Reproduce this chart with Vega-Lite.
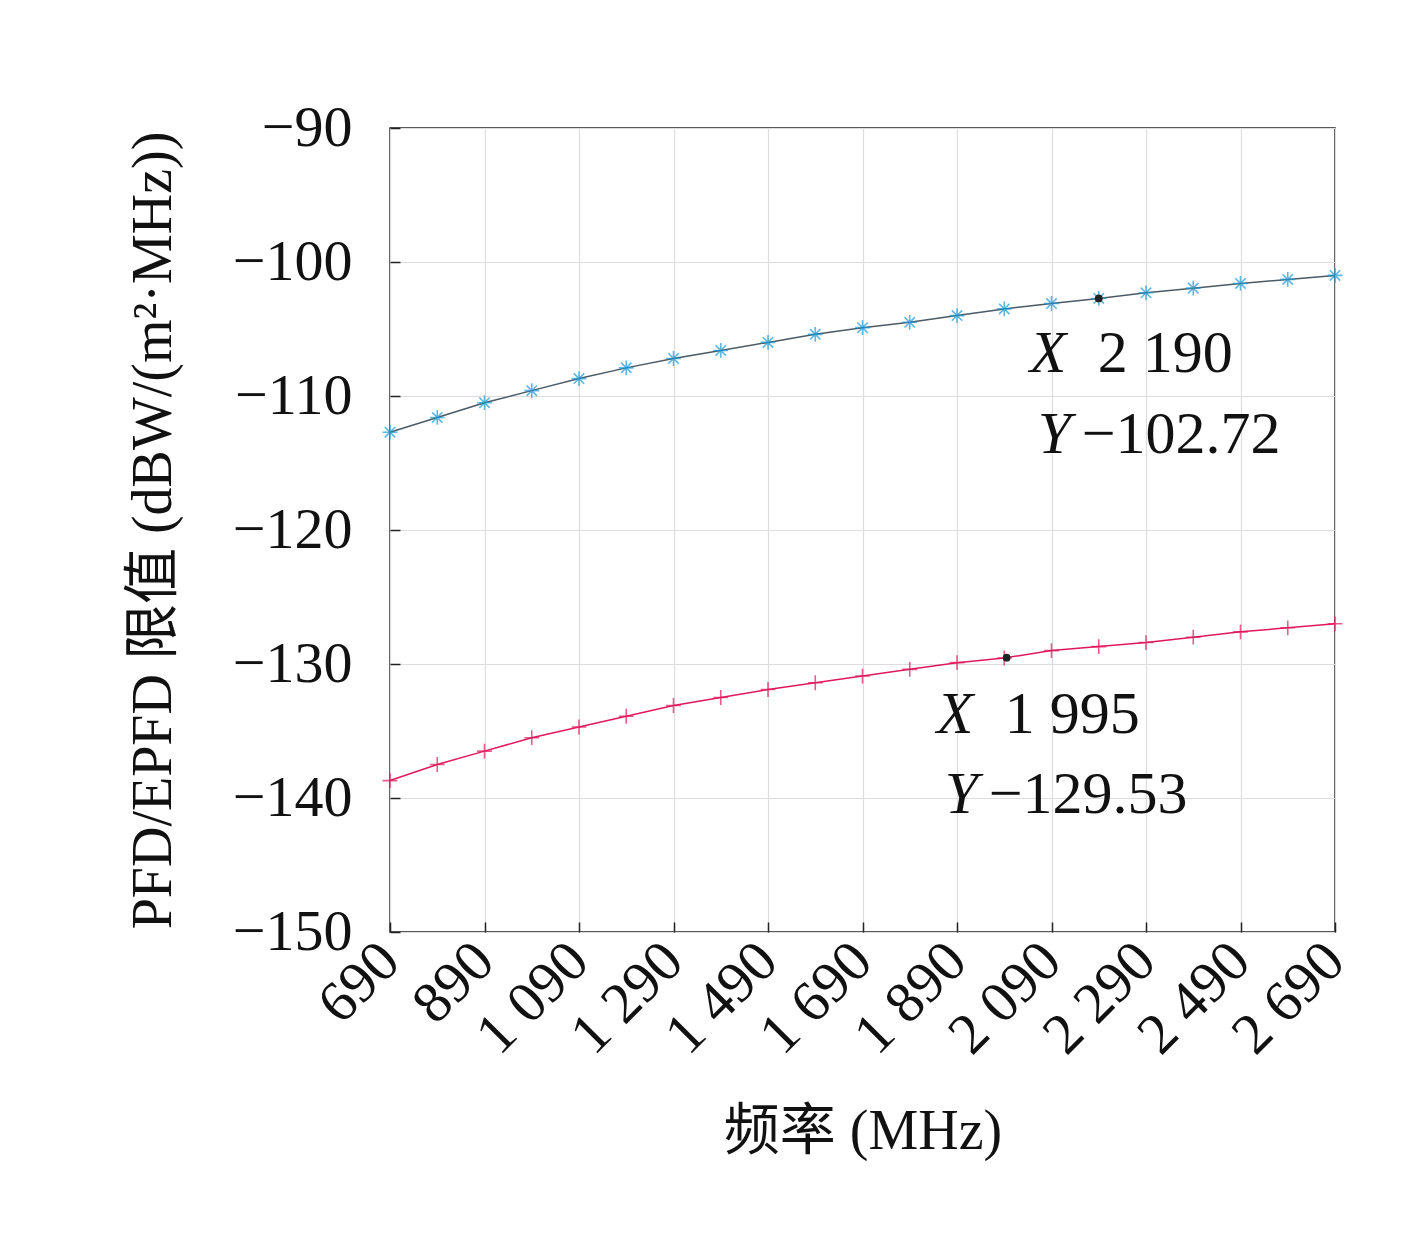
{
  "$schema": "https://vega.github.io/schema/vega-lite/v6.json",
  "autosize": {"type": "none"},
  "padding": {"left": 390, "top": 128, "right": 82, "bottom": 310},
  "width": 945,
  "height": 804,
  "background": "white",
  "config": {
    "font": "Liberation Serif, Noto Sans CJK SC",
    "view": {"stroke": "#222", "strokeWidth": 1.5},
    "axis": {
      "labelFont": "Liberation Serif", "labelFontSize": 58, "labelColor": "#111",
      "titleFont": "Liberation Serif, Noto Sans CJK SC", "titleFontSize": 56, "titleFontWeight": "normal", "titleColor": "#111",
      "gridColor": "#dddddd", "gridWidth": 1.2, "domain": false,
      "tickColor": "#222", "tickSize": -10, "tickWidth": 1.5
    }
  },
  "datasets": {
    "curves": [
      {"f": 690, "s": "PFD限值", "v": -112.7}, {"f": 790, "s": "PFD限值", "v": -111.6},
      {"f": 890, "s": "PFD限值", "v": -110.5}, {"f": 990, "s": "PFD限值", "v": -109.6},
      {"f": 1090, "s": "PFD限值", "v": -108.7}, {"f": 1190, "s": "PFD限值", "v": -107.9},
      {"f": 1290, "s": "PFD限值", "v": -107.2}, {"f": 1390, "s": "PFD限值", "v": -106.6},
      {"f": 1490, "s": "PFD限值", "v": -106.0}, {"f": 1590, "s": "PFD限值", "v": -105.4},
      {"f": 1690, "s": "PFD限值", "v": -104.9}, {"f": 1790, "s": "PFD限值", "v": -104.5},
      {"f": 1890, "s": "PFD限值", "v": -104.0}, {"f": 1990, "s": "PFD限值", "v": -103.5},
      {"f": 2090, "s": "PFD限值", "v": -103.1}, {"f": 2190, "s": "PFD限值", "v": -102.72},
      {"f": 2290, "s": "PFD限值", "v": -102.3}, {"f": 2390, "s": "PFD限值", "v": -101.95},
      {"f": 2490, "s": "PFD限值", "v": -101.6}, {"f": 2590, "s": "PFD限值", "v": -101.3},
      {"f": 2690, "s": "PFD限值", "v": -101.0},
      {"f": 690, "s": "EPFD限值", "v": -138.7}, {"f": 790, "s": "EPFD限值", "v": -137.5},
      {"f": 890, "s": "EPFD限值", "v": -136.5}, {"f": 990, "s": "EPFD限值", "v": -135.5},
      {"f": 1090, "s": "EPFD限值", "v": -134.7}, {"f": 1190, "s": "EPFD限值", "v": -133.9},
      {"f": 1290, "s": "EPFD限值", "v": -133.1}, {"f": 1390, "s": "EPFD限值", "v": -132.5},
      {"f": 1490, "s": "EPFD限值", "v": -131.9}, {"f": 1590, "s": "EPFD限值", "v": -131.4},
      {"f": 1690, "s": "EPFD限值", "v": -130.9}, {"f": 1790, "s": "EPFD限值", "v": -130.4},
      {"f": 1890, "s": "EPFD限值", "v": -129.9}, {"f": 1990, "s": "EPFD限值", "v": -129.55},
      {"f": 2090, "s": "EPFD限值", "v": -129.0}, {"f": 2190, "s": "EPFD限值", "v": -128.7},
      {"f": 2290, "s": "EPFD限值", "v": -128.4}, {"f": 2390, "s": "EPFD限值", "v": -128.0},
      {"f": 2490, "s": "EPFD限值", "v": -127.6}, {"f": 2590, "s": "EPFD限值", "v": -127.3},
      {"f": 2690, "s": "EPFD限值", "v": -127.0}
    ],
    "tips": [
      {"f": 2190, "v": -102.72, "tx": 2044, "ty1": -106.9, "ty2": -112.9, "xl": "2 190", "yl": "−102.72"},
      {"f": 1995, "v": -129.53, "tx": 1847, "ty1": -133.8, "ty2": -139.8, "xl": "1 995", "yl": "−129.53"}
    ]
  },
  "layer": [
    {
      "data": {"name": "curves"},
      "mark": {"type": "line", "strokeWidth": 1.5},
      "encoding": {
        "x": {"field": "f", "type": "quantitative", "title": "频率 (MHz)",
          "scale": {"domain": [690, 2690], "nice": false},
          "axis": {"values": [690, 890, 1090, 1290, 1490, 1690, 1890, 2090, 2290, 2490, 2690],
            "labelExpr": "replace(format(datum.value, ','), ',', ' ')", "labelOverlap": false,
            "labelAngle": -45, "labelAlign": "right", "labelBaseline": "middle", "labelPadding": 30,
            "titlePadding": 40}},
        "y": {"field": "v", "type": "quantitative", "title": "PFD/EPFD 限值 (dBW/(m²·MHz))",
          "scale": {"domain": [-150, -90], "nice": false},
          "axis": {"values": [-150, -140, -130, -120, -110, -100, -90], "labelPadding": 48, "titlePadding": 50}},
        "color": {"field": "s", "type": "nominal",
          "scale": {"domain": ["PFD限值", "EPFD限值"], "range": ["#4a5a66", "#e0185a"]},
          "legend": null}
      }
    },
    {
      "data": {"name": "curves"},
      "mark": {"type": "point", "filled": false, "strokeWidth": 1.6, "size": 220},
      "encoding": {
        "x": {"field": "f", "type": "quantitative"},
        "y": {"field": "v", "type": "quantitative"},
        "shape": {"field": "s", "type": "nominal",
          "scale": {"domain": ["PFD限值", "EPFD限值"],
            "range": ["M-1,0L1,0M0,-1L0,1M-0.7,-0.7L0.7,0.7M-0.7,0.7L0.7,-0.7", "M-1,0L1,0M0,-1L0,1"]},
          "legend": {"title": null, "orient": "top-left", "offset": 30, "labelFontSize": 58,
            "labelFont": "Liberation Serif, Noto Sans CJK SC", "labelColor": "#111",
            "symbolSize": 300, "symbolStrokeWidth": 1.6, "rowPadding": 12, "labelOffset": 14}},
        "stroke": {"field": "s", "type": "nominal",
          "scale": {"domain": ["PFD限值", "EPFD限值"], "range": ["#1a9ad6", "#e0185a"]},
          "legend": {"title": null, "orient": "top-left", "offset": 30, "labelFontSize": 58,
            "labelFont": "Liberation Serif, Noto Sans CJK SC", "labelColor": "#111",
            "symbolSize": 300, "symbolStrokeWidth": 1.6, "rowPadding": 12, "labelOffset": 14}}
      }
    },
    {
      "data": {"name": "tips"},
      "mark": {"type": "circle", "color": "#222", "size": 60, "opacity": 1},
      "encoding": {
        "x": {"field": "f", "type": "quantitative"},
        "y": {"field": "v", "type": "quantitative"}
      }
    },
    {
      "data": {"name": "tips"},
      "mark": {"type": "text", "align": "left", "baseline": "middle", "fontSize": 60, "fontStyle": "italic", "font": "Liberation Serif", "color": "#111"},
      "encoding": {
        "x": {"field": "tx", "type": "quantitative"},
        "y": {"field": "ty1", "type": "quantitative"},
        "text": {"value": "X"}
      }
    },
    {
      "data": {"name": "tips"},
      "mark": {"type": "text", "align": "left", "baseline": "middle", "fontSize": 60, "font": "Liberation Serif", "color": "#111", "dx": 68},
      "encoding": {
        "x": {"field": "tx", "type": "quantitative"},
        "y": {"field": "ty1", "type": "quantitative"},
        "text": {"field": "xl"}
      }
    },
    {
      "data": {"name": "tips"},
      "mark": {"type": "text", "align": "left", "baseline": "middle", "fontSize": 60, "fontStyle": "italic", "font": "Liberation Serif", "color": "#111", "dx": 8},
      "encoding": {
        "x": {"field": "tx", "type": "quantitative"},
        "y": {"field": "ty2", "type": "quantitative"},
        "text": {"value": "Y"}
      }
    },
    {
      "data": {"name": "tips"},
      "mark": {"type": "text", "align": "left", "baseline": "middle", "fontSize": 60, "font": "Liberation Serif", "color": "#111", "dx": 52},
      "encoding": {
        "x": {"field": "tx", "type": "quantitative"},
        "y": {"field": "ty2", "type": "quantitative"},
        "text": {"field": "yl"}
      }
    }
  ]
}
